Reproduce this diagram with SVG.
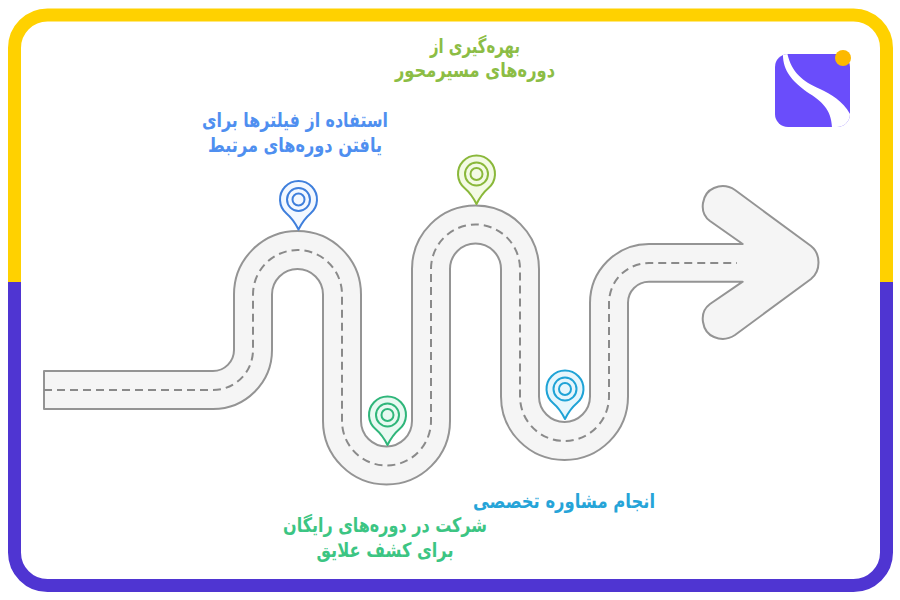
<svg xmlns="http://www.w3.org/2000/svg" width="900" height="600" viewBox="0 0 900 600">
  <style>
    .t { font-family: "DejaVu Sans", "Noto Sans", sans-serif; font-weight: 700; font-size: 20px; text-anchor: middle; direction: rtl; }
    .ring { fill: none; stroke-width: 2; }
    .pin { stroke-width: 2; stroke-linejoin: round; }
  </style>
  <defs>
    <linearGradient id="frameGrad" gradientUnits="userSpaceOnUse" x1="0" y1="8" x2="0" y2="592">
      <stop offset="0.469" stop-color="#ffd100"/>
      <stop offset="0.469" stop-color="#4f35d2"/>
    </linearGradient>
    <clipPath id="logoClip"><rect x="775" y="54" width="75" height="73" rx="13"/></clipPath>
    <g id="pinShape">
      <path class="pin" d="M-12 14 A18.5 18.5 0 1 1 12 14 Q5 20 0 30 Q-5 20 -12 14 Z"/>
      <circle class="ring" r="11.5"/>
      <circle class="ring" r="6"/>
    </g>
  </defs>
  <rect width="900" height="600" fill="#ffffff"/>
  <rect id="frame" x="14.5" y="15" width="872" height="570.5" rx="33" fill="#ffffff" stroke="url(#frameGrad)" stroke-width="13"/>

  <g id="logo" clip-path="url(#logoClip)">
    <rect x="775" y="54" width="75" height="73" fill="#6a4dfb"/>
    <path d="M783 52 C782 70 792 81 807 92 C822 101 832 110 832 129 L852 129 L852 118 C845 102 832 95 820 89 C802 81 791 72 787 52 Z" fill="#ffffff"/>
  </g>
  <circle cx="843" cy="58" r="8" fill="#fdb900"/>

  <g id="connectors">
    <path id="road" fill="#f5f5f5" stroke="#949494" stroke-width="2" stroke-linejoin="round" d="M44 371 H213 A21 21 0 0 0 234 350 V294.5 A63.5 63.5 0 0 1 361 294.5 V421 A25.5 25.5 0 0 0 412 421 V269 A63.5 63.5 0 0 1 539 269 V396.5 A25.5 25.5 0 0 0 590 396.5 V303 A59 59 0 0 1 649 244 H742.7 L710 221 C698 212 702 193 714 188 C721 185 729 186 735 190 L811 246 C821 254 821 271 811 279 L735 335 C729 339 721 340 714 337 C702 332 698 313 710 304 L742.7 281.7 H649 A21 21 0 0 0 628 303 V396.5 A63.5 63.5 0 0 1 501 396.5 V269 A25.5 25.5 0 0 0 450 269 V421 A63.5 63.5 0 0 1 323 421 V294.5 A25.5 25.5 0 0 0 272 294.5 V350 A59 59 0 0 1 213 409 H44 Z"/>
    <path id="centre-line" fill="none" stroke="#8a8a8a" stroke-width="2" stroke-dasharray="8 5" d="M44 390 H213 A40 40 0 0 0 253 350 V294.5 A44.5 44.5 0 0 1 342 294.5 V421 A44.5 44.5 0 0 0 431 421 V269 A44.5 44.5 0 0 1 520 269 V396.5 A44.5 44.5 0 0 0 609 396.5 V303 A40 40 0 0 1 649 263 H737"/>
  </g>

  <g id="node-blue">
    <use href="#pinShape" x="298.5" y="199.5" fill="#f3f8ff" stroke="#3f7fdc"/>
    <text class="t" x="295" y="127" fill="#4f8ff0" textLength="186" lengthAdjust="spacingAndGlyphs">استفاده از فیلترها برای</text>
    <text class="t" x="295" y="152" fill="#4f8ff0" textLength="174" lengthAdjust="spacingAndGlyphs">یافتن دوره‌های مرتبط</text>
  </g>
  <g id="node-green">
    <use href="#pinShape" x="387.5" y="415" fill="#e8f9f1" stroke="#2fb67a"/>
    <text class="t" x="385" y="532" fill="#3cc583" textLength="204" lengthAdjust="spacingAndGlyphs">شرکت در دوره‌های رایگان</text>
    <text class="t" x="385" y="557" fill="#3cc583" textLength="137" lengthAdjust="spacingAndGlyphs">برای کشف علایق</text>
  </g>
  <g id="node-olive">
    <use href="#pinShape" x="476.5" y="174" fill="#f3fae4" stroke="#8ab83a"/>
    <text class="t" x="475" y="53" fill="#8cbd45" textLength="90" lengthAdjust="spacingAndGlyphs">بهره‌گیری از</text>
    <text class="t" x="475" y="77" fill="#8cbd45" textLength="160" lengthAdjust="spacingAndGlyphs">دوره‌های مسیرمحور</text>
  </g>
  <g id="node-cyan">
    <use href="#pinShape" x="565" y="389" fill="#e6f6fc" stroke="#1fa3d6"/>
    <text class="t" x="564" y="508" fill="#26a4d8" textLength="182" lengthAdjust="spacingAndGlyphs">انجام مشاوره تخصصی</text>
  </g>
</svg>
